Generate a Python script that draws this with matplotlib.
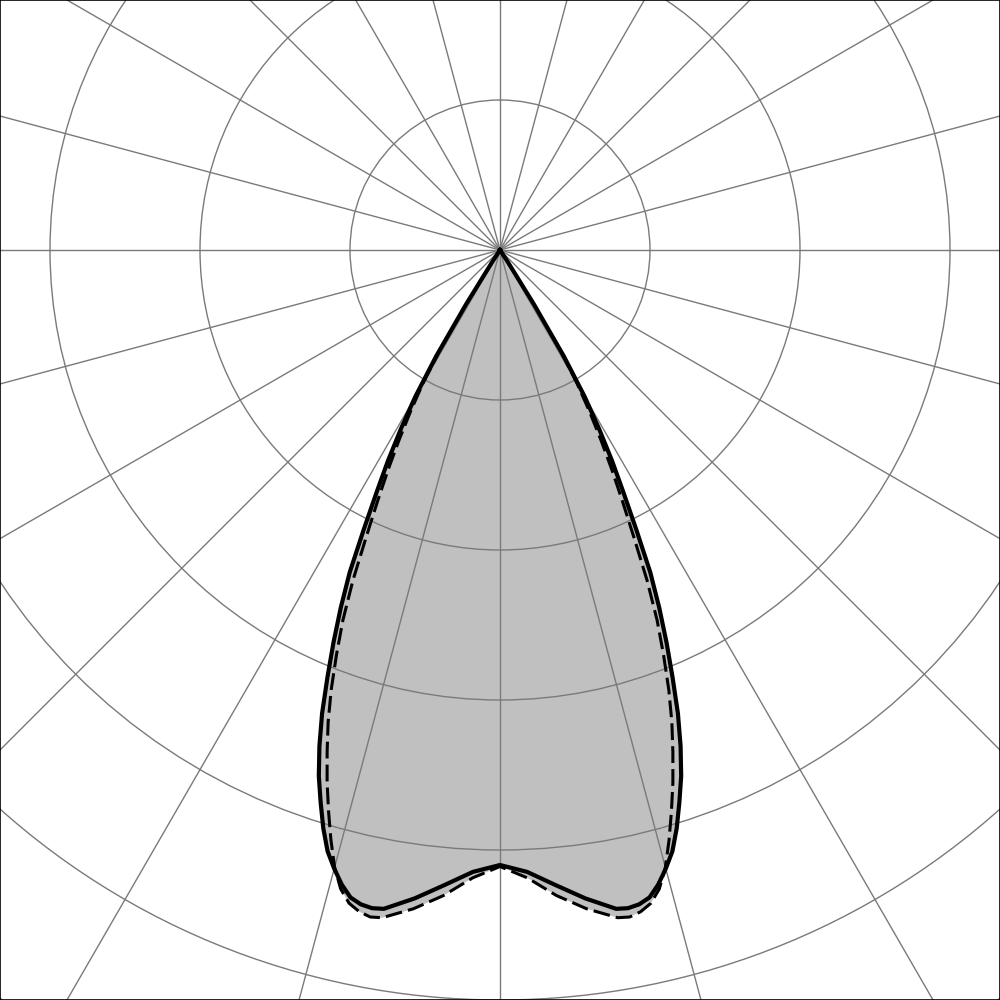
import numpy as np
import matplotlib.pyplot as plt
from matplotlib.patches import Circle

# gamma angles (deg from nadir) and intensities (cd/klm), symmetric planes
angles = [0, 2.5, 5, 7.5, 10, 11, 12, 13, 14, 15, 16, 17, 18, 19, 20,
          21, 22, 23, 24, 25, 26, 27, 28, 29, 30, 31, 32, 33, 34, 60, 90]
c0_c180 = [410, 415, 425, 436, 446, 447, 446, 443, 436, 427, 417, 403, 387, 371, 352,
           331, 307, 284, 261, 237, 207, 181, 159, 136, 113, 83, 43, 10, 0, 0, 0]
c90_c270 = [411, 419, 432, 443, 452, 453, 451, 447, 439, 426, 409, 391, 373, 354, 335,
            314, 291, 268, 241, 211, 186, 164, 143, 123, 103, 77, 40, 8, 0, 0, 0]

rings = [100, 200, 300, 400, 500, 600]
spoke_step = 15


def to_xy(ang, val):
    a = np.radians(np.concatenate([-np.array(ang[::-1]), np.array(ang[1:])]))
    r = np.concatenate([np.array(val[::-1]), np.array(val[1:])])
    return r * np.sin(a), -r * np.cos(a)


fig = plt.figure(figsize=(10, 10), dpi=100)
ax = fig.add_axes([0, 0, 1, 1])

xs, ys = to_xy(angles, c0_c180)
xd, yd = to_xy(angles, c90_c270)
ax.fill(xd, yd, color='#c0c0c0', lw=0, zorder=1)
ax.fill(xs, ys, color='#c0c0c0', lw=0, zorder=1)

for r in rings:
    ax.add_patch(Circle((0, 0), r, fill=False, ec='#7a7a7a', lw=1, zorder=2))
for a in range(0, 360, spoke_step):
    t = np.radians(a)
    ax.plot([0, 700 * np.sin(t)], [0, 700 * np.cos(t)], color='#7a7a7a', lw=1, zorder=2)

ax.plot(xd, yd, color='black', lw=2.2, ls=(0, (5.5, 2)), zorder=3,
        solid_joinstyle='round', dash_joinstyle='round')
ax.plot(xs, ys, color='black', lw=3.0, zorder=4, solid_joinstyle='round')

ax.set_xlim(-1000 / 3, 1000 / 3)
ax.set_ylim(-500, 500 / 3)
ax.set_aspect('equal')
ax.set_xticks([])
ax.set_yticks([])
for s in ax.spines.values():
    s.set_linewidth(1.2)
    s.set_color('black')

fig.savefig('out.png')
